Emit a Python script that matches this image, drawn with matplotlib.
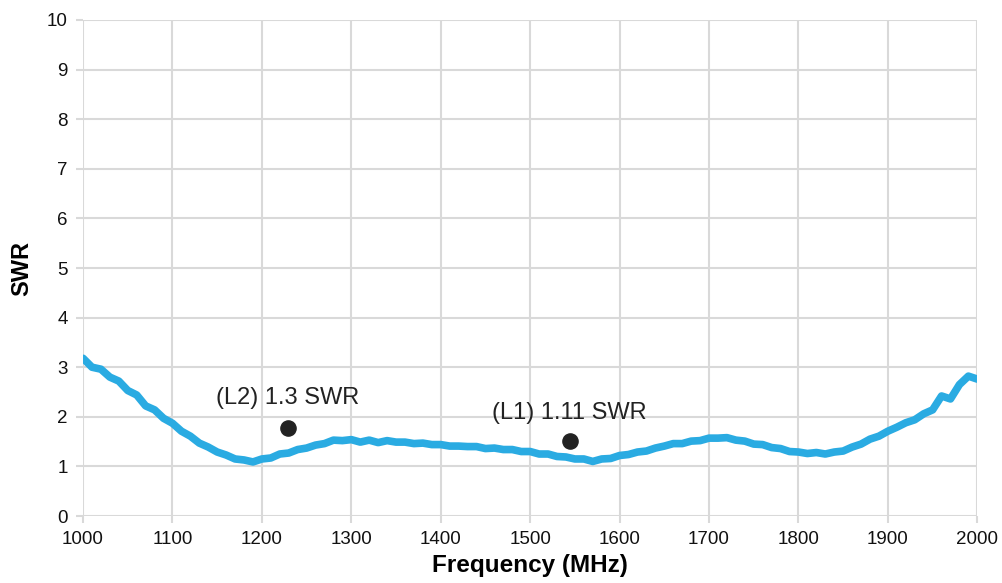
import matplotlib
matplotlib.use("Agg")
import matplotlib.pyplot as plt

plt.rcParams['font.family'] = ['Liberation Sans', 'DejaVu Sans']

# measured SWR, one value every 10 MHz
freq = list(range(1000, 2001, 10))
swr = [3.18, 3.00, 2.96, 2.80, 2.72, 2.53, 2.44, 2.22, 2.14, 1.97,
       1.87, 1.71, 1.61, 1.47, 1.39, 1.29, 1.23, 1.15, 1.13, 1.09,
       1.15, 1.17, 1.25, 1.27, 1.34, 1.37, 1.43, 1.46, 1.53, 1.52,
       1.54, 1.49, 1.53, 1.48, 1.52, 1.49, 1.49, 1.46, 1.47, 1.44,
       1.44, 1.41, 1.41, 1.40, 1.40, 1.36, 1.37, 1.34, 1.34, 1.30,
       1.30, 1.25, 1.25, 1.20, 1.19, 1.15, 1.15, 1.10, 1.15, 1.16,
       1.22, 1.24, 1.29, 1.31, 1.37, 1.41, 1.46, 1.46, 1.51, 1.52,
       1.57, 1.57, 1.58, 1.53, 1.51, 1.45, 1.44, 1.38, 1.36, 1.30,
       1.29, 1.26, 1.28, 1.25, 1.29, 1.31, 1.39, 1.45, 1.55, 1.61,
       1.71, 1.79, 1.88, 1.94, 2.06, 2.14, 2.42, 2.36, 2.65, 2.82,
       2.76]

# marked points and their labels
mark_x = [1229, 1544]
mark_y = [1.77, 1.51]
mark_text = ["(L2) 1.3 SWR", "(L1) 1.11 SWR"]
text_y = [2.38, 2.08]

grid_col = '#d9d9d9'

fig = plt.figure(figsize=(10.03, 5.83), dpi=100)
ax = fig.add_axes([0.0828, 0.1149, 0.8916, 0.8508])

ax.plot(freq, swr, color='#2aabe2', lw=5.5, solid_capstyle='round',
        solid_joinstyle='round', zorder=3)
ax.scatter(mark_x, mark_y, s=120, color='#222222', zorder=4)
for x, ty, t in zip(mark_x, text_y, mark_text):
    ax.text(x, ty, t, ha='center', va='center', fontsize=17, color='#222222')

ax.set_xlim(1000, 2000)
ax.set_ylim(0, 10)
ax.set_xticks(range(1000, 2001, 100))
ax.set_yticks(range(0, 11))
ax.grid(True, color=grid_col, lw=1.5, zorder=0)
for s in ax.spines.values():
    s.set_visible(False)
ax.tick_params(length=5, width=1.5, color=grid_col, labelsize=13.5,
               labelcolor='#111111', pad=6)

ax.set_xlabel('Frequency (MHz)', fontsize=17.5, fontweight='bold', labelpad=4)
ax.set_ylabel('SWR', fontsize=17, fontweight='bold', labelpad=10)

fig.savefig('out.png', dpi=100)
